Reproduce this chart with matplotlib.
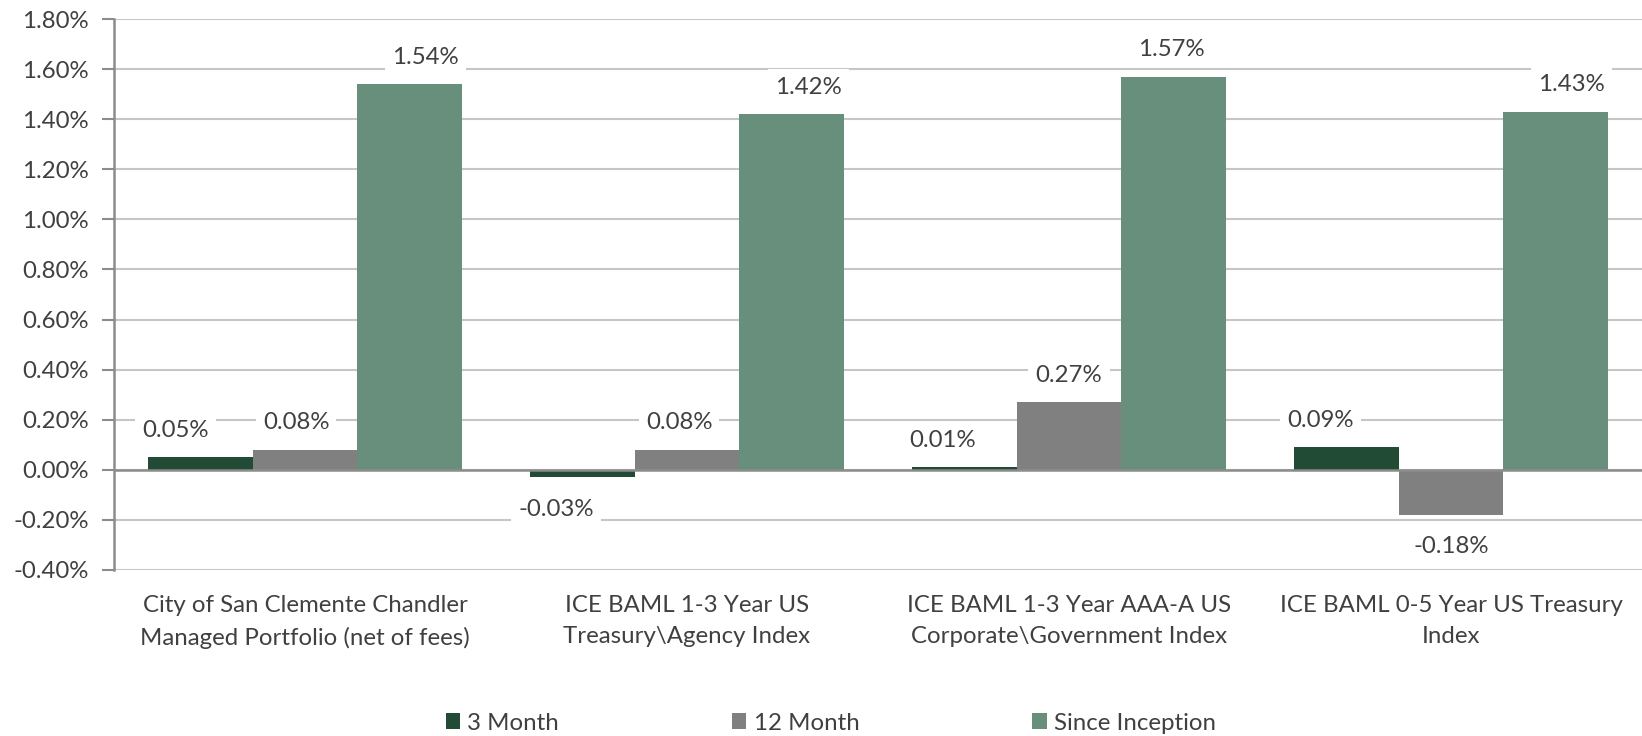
import matplotlib
matplotlib.use("Agg")
import matplotlib.pyplot as plt
import numpy as np
from matplotlib.ticker import FuncFormatter, MultipleLocator
from matplotlib.patches import Patch

categories = [
    "City of San Clemente Chandler\nManaged Portfolio (net of fees)",
    "ICE BAML 1-3 Year US\nTreasury\\Agency Index",
    "ICE BAML 1-3 Year AAA-A US\nCorporate\\Government Index",
    "ICE BAML 0-5 Year US Treasury\nIndex",
]
series_names = ["3 Month", "12 Month", "Since Inception"]
three_month = [0.05, -0.03, 0.01, 0.09]
twelve_month = [0.08, 0.08, 0.27, -0.18]
since_inception = [1.54, 1.42, 1.57, 1.43]
colors = ["#214B35", "#808080", "#688E7C"]
# horizontal nudges of data labels (pixels), per series then category
label_nudge = [[-25, -26, -22, -26], [-9, -8, 0, 0], [16, 17, -2, 16]]

plt.rcParams['font.family'] = ['Lato', 'DejaVu Sans']
text_color = "#404040"
fs = 17.3

fig = plt.figure(figsize=(16.42, 7.36), dpi=100)
ax = fig.add_axes([114/1642, 1-570/736, 1-114/1642, (570-19)/736])

series = [three_month, twelve_month, since_inception]
n = len(series)
gap = 0.65
w = 1.0 / (n + gap)
x = np.arange(len(categories))
for i, (vals, c) in enumerate(zip(series, colors)):
    pos = x + (i - (n - 1) / 2) * w
    ax.bar(pos, vals, width=w, color=c, zorder=3)
    for j, (p, v) in enumerate(zip(pos, vals)):
        dy = 27 if v >= 0 else -32
        ax.annotate(f"{v:.2f}%", (p, v), xytext=(label_nudge[i][j], dy),
                    textcoords="offset pixels", ha="center", va="center",
                    fontsize=fs, color=text_color, zorder=5,
                    bbox=dict(boxstyle="square,pad=0.3", fc="white", ec="none"))

ax.set_xlim(-0.5, len(categories) - 0.5)
ax.set_ylim(-0.40, 1.80)
ax.yaxis.set_major_locator(MultipleLocator(0.20))
ax.yaxis.set_major_formatter(FuncFormatter(lambda v, p: f"{v:.2f}%"))
ax.grid(axis="y", color="#C6C6C6", linewidth=1.5, zorder=0)
ax.axhline(0, color="#8C8C8C", linewidth=1.8, zorder=4)
for s in ["top", "right", "bottom"]:
    ax.spines[s].set_visible(False)
ax.spines["left"].set_color("#8C8C8C")
ax.spines["left"].set_linewidth(1.8)
ax.tick_params(axis="y", length=9, width=1.5, color="#8C8C8C", labelsize=fs,
               labelcolor=text_color, pad=9)
ax.set_xticks(x)
ax.set_xticklabels(categories, fontsize=fs, color=text_color, linespacing=1.6)
ax.tick_params(axis="x", length=0, pad=18)

handles = [Patch(facecolor=c, edgecolor="none") for c in colors]
fig.legend(handles, series_names, loc="center", bbox_to_anchor=(0.506, 1-723/736),
           ncol=3, frameon=False, fontsize=fs, labelcolor=text_color,
           handlelength=0.6, handleheight=0.6, handletextpad=0.3,
           columnspacing=7.2)

fig.savefig("out.png", dpi=100)
